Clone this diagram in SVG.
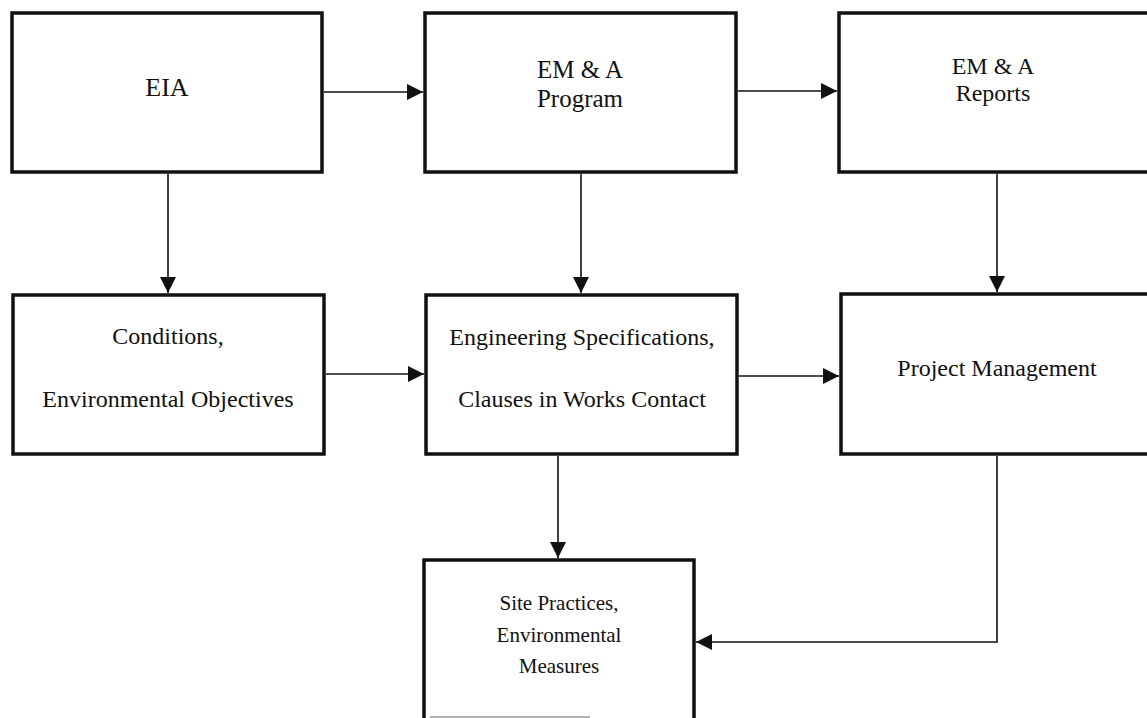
<svg xmlns="http://www.w3.org/2000/svg" width="1147" height="718" viewBox="0 0 1147 718">
<style>
.box{fill:#fff;stroke:#111;stroke-width:3.5}
.lbl{font-family:"Liberation Serif","Times New Roman",serif;fill:#111;text-anchor:middle}
.big{font-size:26px}
.mid{font-size:25px}
.med{font-size:24px}
.sm{font-size:21px}
.con{fill:none;stroke:#111;stroke-width:1.6}
</style>
<defs>
<marker id="ah" markerUnits="userSpaceOnUse" markerWidth="17" markerHeight="16" refX="16" refY="8" orient="auto">
<path d="M0,0 L16,8 L0,16 z" fill="#111"/>
</marker>
</defs>
<rect width="1147" height="718" fill="#fff"/>
<g id="n-eia">
<rect class="box" x="12" y="13" width="310" height="159"/>
<text class="lbl big" x="167" y="96">EIA</text>
</g>
<g id="n-program">
<rect class="box" x="425" y="13" width="311" height="159"/>
<text class="lbl mid" x="580" y="78">EM &amp; A</text>
<text class="lbl mid" x="580" y="107">Program</text>
</g>
<g id="n-reports">
<rect class="box" x="839" y="13" width="330" height="159"/>
<text class="lbl med" x="993" y="74">EM &amp; A</text>
<text class="lbl med" x="993" y="101">Reports</text>
</g>
<g id="n-conditions">
<rect class="box" x="13" y="295" width="311" height="159"/>
<text class="lbl med" x="168" y="344">Conditions,</text>
<text class="lbl med" x="168" y="407">Environmental Objectives</text>
</g>
<g id="n-engineering">
<rect class="box" x="426" y="295" width="311" height="159"/>
<text class="lbl med" x="582" y="345">Engineering Specifications,</text>
<text class="lbl med" x="582" y="407">Clauses in Works Contact</text>
</g>
<g id="n-pm">
<rect class="box" x="841" y="294" width="330" height="160"/>
<text class="lbl med" x="997" y="376">Project Management</text>
</g>
<g id="n-site">
<path d="M424,720 V560 H694 V720" fill="#fff" stroke="#111" stroke-width="3.5"/>
<line x1="430" y1="717" x2="590" y2="717" stroke="#999" stroke-width="1.5"/>
<text class="lbl sm" x="559" y="610">Site Practices,</text>
<text class="lbl sm" x="559" y="642">Environmental</text>
<text class="lbl sm" x="559" y="673">Measures</text>
</g>
<g id="connectors">
<line class="con" x1="324" y1="92" x2="423" y2="92" marker-end="url(#ah)"/>
<line class="con" x1="738" y1="91" x2="837" y2="91" marker-end="url(#ah)"/>
<line class="con" x1="168" y1="174" x2="168" y2="293" marker-end="url(#ah)"/>
<line class="con" x1="581" y1="174" x2="581" y2="293" marker-end="url(#ah)"/>
<line class="con" x1="997" y1="174" x2="997" y2="292" marker-end="url(#ah)"/>
<line class="con" x1="326" y1="374" x2="424" y2="374" marker-end="url(#ah)"/>
<line class="con" x1="739" y1="376" x2="839" y2="376" marker-end="url(#ah)"/>
<line class="con" x1="558" y1="456" x2="558" y2="558" marker-end="url(#ah)"/>
<path class="con" d="M997,456 V642 H696" marker-end="url(#ah)"/>
</g>
</svg>
